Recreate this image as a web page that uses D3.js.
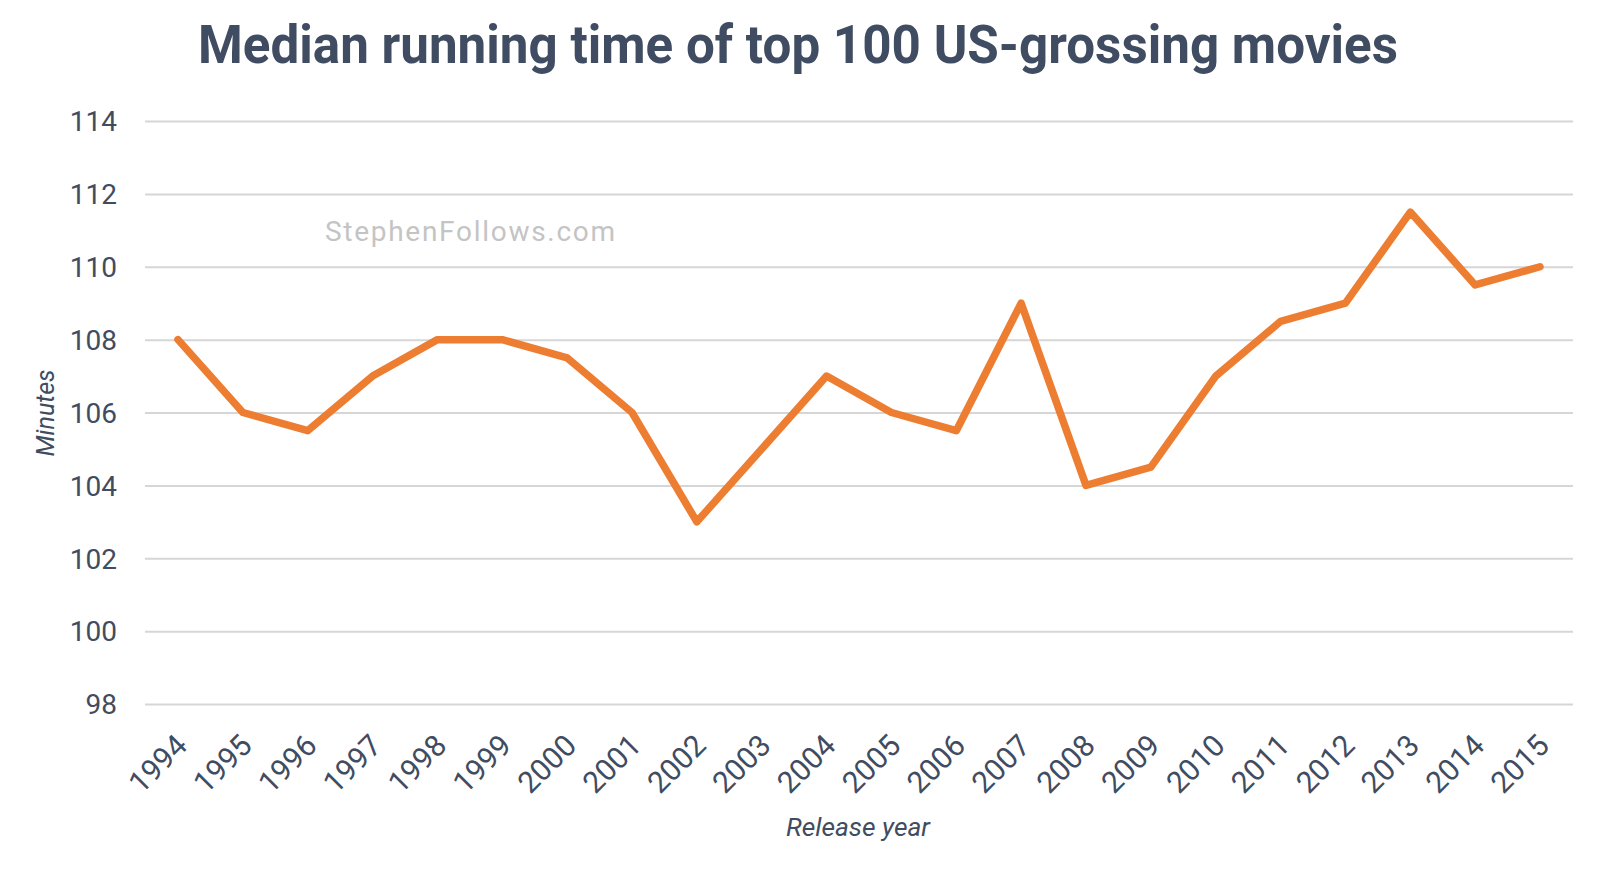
<!DOCTYPE html>
<html>
<head>
<meta charset="utf-8">
<script src="https://d3js.org/d3.v7.min.js"></script>
<style>
 body { margin: 0; background: #fff; }
 text { font-family: Roboto, "Noto Sans", sans-serif; }
</style>
</head>
<body>
<svg id="chart" width="1606" height="880"></svg>
<script>
 // values
 var years = ["1994","1995","1996","1997","1998","1999","2000","2001","2002","2003","2004",
              "2005","2006","2007","2008","2009","2010","2011","2012","2013","2014","2015"];
 var minutes = [108, 106, 105.5, 107, 108, 108, 107.5, 106, 103, 105, 107,
                106, 105.5, 109, 104, 104.5, 107, 108.5, 109, 111.5, 109.5, 110];
 var yTicks = [98, 100, 102, 104, 106, 108, 110, 112, 114];

 var ink = "#3f4c61";
 var svg = d3.select("#chart");

 var x = d3.scalePoint().domain(years).range([178, 1540]);
 var y = d3.scaleLinear().domain([98, 114]).range([704, 121]);

 // grid lines
 svg.append("g")
    .attr("transform", "translate(145,0)")
    .call(d3.axisLeft(y).tickValues(yTicks).tickSize(-1428).tickFormat(""))
    .call(function(g) {
        g.select(".domain").remove();
        g.selectAll("line").attr("stroke", "#d6d6d6").attr("stroke-width", 2);
    });

 // y tick labels
 svg.append("g")
    .attr("transform", "translate(117,0)")
    .call(d3.axisLeft(y).tickValues(yTicks).tickSize(0).tickPadding(0))
    .call(function(g) {
        g.select(".domain").remove();
        g.selectAll("text")
         .style("font-size", "28px")
         .attr("fill", ink)
         .attr("dy", "0.35em");
    });

 // x tick labels, rotated
 svg.append("g")
    .attr("transform", "translate(0,704)")
    .call(d3.axisBottom(x).tickSize(0).tickPadding(0))
    .call(function(g) {
        g.select(".domain").remove();
        g.selectAll("text")
         .style("font-size", "30px")
         .attr("fill", ink)
         .attr("text-anchor", "end")
         .attr("transform", "translate(3,36) rotate(-45)")
         .attr("dy", "0.35em");
    });

 // line
 var line = d3.line()
              .x(function(d, i) { return x(years[i]); })
              .y(function(d) { return y(d); })
              .curve(d3.curveLinear);

 svg.append("path")
    .datum(minutes)
    .attr("d", line)
    .attr("fill", "none")
    .attr("stroke", "#ed7d31")
    .attr("stroke-width", 7.5)
    .attr("stroke-linejoin", "round")
    .attr("stroke-linecap", "round");

 // title
 svg.append("text")
    .attr("x", 798).attr("y", 63)
    .attr("text-anchor", "middle")
    .attr("font-size", "54px")
    .attr("font-weight", "bold")
    .attr("fill", ink)
    .attr("textLength", 1200)
    .attr("lengthAdjust", "spacingAndGlyphs")
    .text("Median running time of top 100 US-grossing movies");

 // watermark
 svg.append("text")
    .attr("x", 470).attr("y", 241)
    .attr("text-anchor", "middle")
    .attr("font-size", "28px")
    .attr("fill", "#c4c4c4")
    .attr("textLength", 290)
    .attr("lengthAdjust", "spacing")
    .text("StephenFollows.com");

 // axis titles
 svg.append("text")
    .attr("transform", "translate(54,413) rotate(-90)")
    .attr("text-anchor", "middle")
    .attr("font-size", "25px")
    .attr("font-style", "italic")
    .attr("fill", ink)
    .text("Minutes");

 svg.append("text")
    .attr("x", 858).attr("y", 836)
    .attr("text-anchor", "middle")
    .attr("font-size", "26px")
    .attr("font-style", "italic")
    .attr("fill", ink)
    .attr("textLength", 144)
    .attr("lengthAdjust", "spacingAndGlyphs")
    .text("Release year");
</script>
</body>
</html>
